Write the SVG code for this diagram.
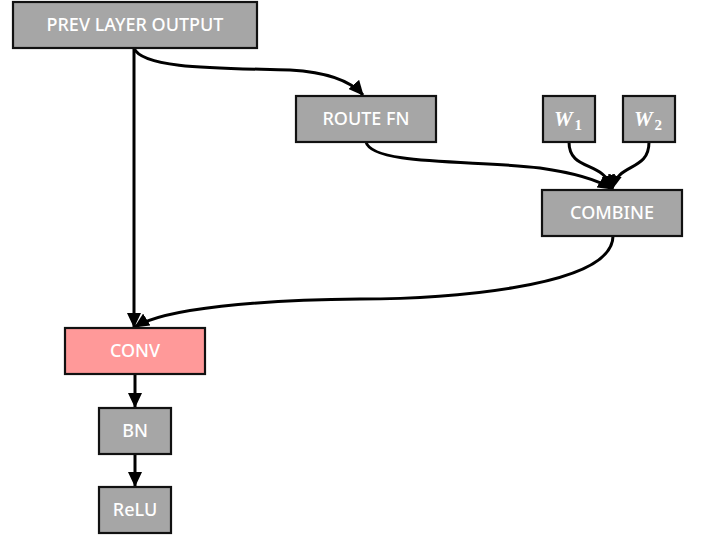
<svg xmlns="http://www.w3.org/2000/svg" width="702" height="535" viewBox="0 0 702 535">
<style>
.box{fill:#a6a6a6;stroke:#111;stroke-width:2.2}
.pink{fill:#ff9999}
.lbl{font-family:"Noto Sans","Open Sans",sans-serif;font-size:18px;font-weight:500;fill:#fff;text-anchor:middle}
.math{font-family:"Liberation Serif","DejaVu Serif",serif;font-size:21px;font-weight:bold;font-style:italic;fill:#fff;text-anchor:middle}
.sub{font-style:normal;font-size:15px}
.edge{fill:none;stroke:#000;stroke-width:3}
</style>
<defs>
<marker id="arr" markerWidth="15" markerHeight="14" refX="14" refY="7" orient="auto" markerUnits="userSpaceOnUse">
<path d="M0,0 L15,7 L0,14 Z" fill="#000"/>
</marker>
</defs>
<rect width="702" height="535" fill="#fff"/>
<g id="connectors">
<path class="edge" marker-end="url(#arr)" d="M134,48 L134,327"/>
<path class="edge" marker-end="url(#arr)" d="M134,48 C142,70 230,68 290,70 C325,72 350,80 363,95"/>
<path class="edge" marker-end="url(#arr)" d="M366,142 C372,166 480,160 540,168 C575,173 598,180 612,189"/>
<path class="edge" marker-end="url(#arr)" d="M569,142 C569,172 604,160 612,189"/>
<path class="edge" marker-end="url(#arr)" d="M649,142 C649,172 618,162 612,189"/>
<path class="edge" marker-end="url(#arr)" d="M613,236 C613,290 430,299 360,299 C260,300 165,308 135,327"/>
<path class="edge" marker-end="url(#arr)" d="M135,374 L135,407"/>
<path class="edge" marker-end="url(#arr)" d="M135,454 L135,486"/>
</g>
<g id="prev"><rect class="box" x="13" y="2" width="244" height="46"/><text class="lbl" x="135" y="31">PREV LAYER OUTPUT</text></g>
<g id="route"><rect class="box" x="296" y="96" width="140" height="46"/><text class="lbl" x="366" y="125">ROUTE FN</text></g>
<g id="w1"><rect class="box" x="543" y="96" width="52" height="46"/><text class="math" x="568" y="126">W<tspan class="sub" dx="2" dy="4">1</tspan></text></g>
<g id="w2"><rect class="box" x="623" y="96" width="52" height="46"/><text class="math" x="648" y="126">W<tspan class="sub" dx="2" dy="4">2</tspan></text></g>
<g id="combine"><rect class="box" x="542" y="190" width="140" height="46"/><text class="lbl" x="612" y="219">COMBINE</text></g>
<g id="conv"><rect class="box pink" x="65" y="328" width="140" height="46"/><text class="lbl" x="135" y="357">CONV</text></g>
<g id="bn"><rect class="box" x="99" y="408" width="72" height="46"/><text class="lbl" x="135" y="437">BN</text></g>
<g id="relu"><rect class="box" x="99" y="487" width="72" height="46"/><text class="lbl" x="135" y="516">ReLU</text></g>
</svg>
